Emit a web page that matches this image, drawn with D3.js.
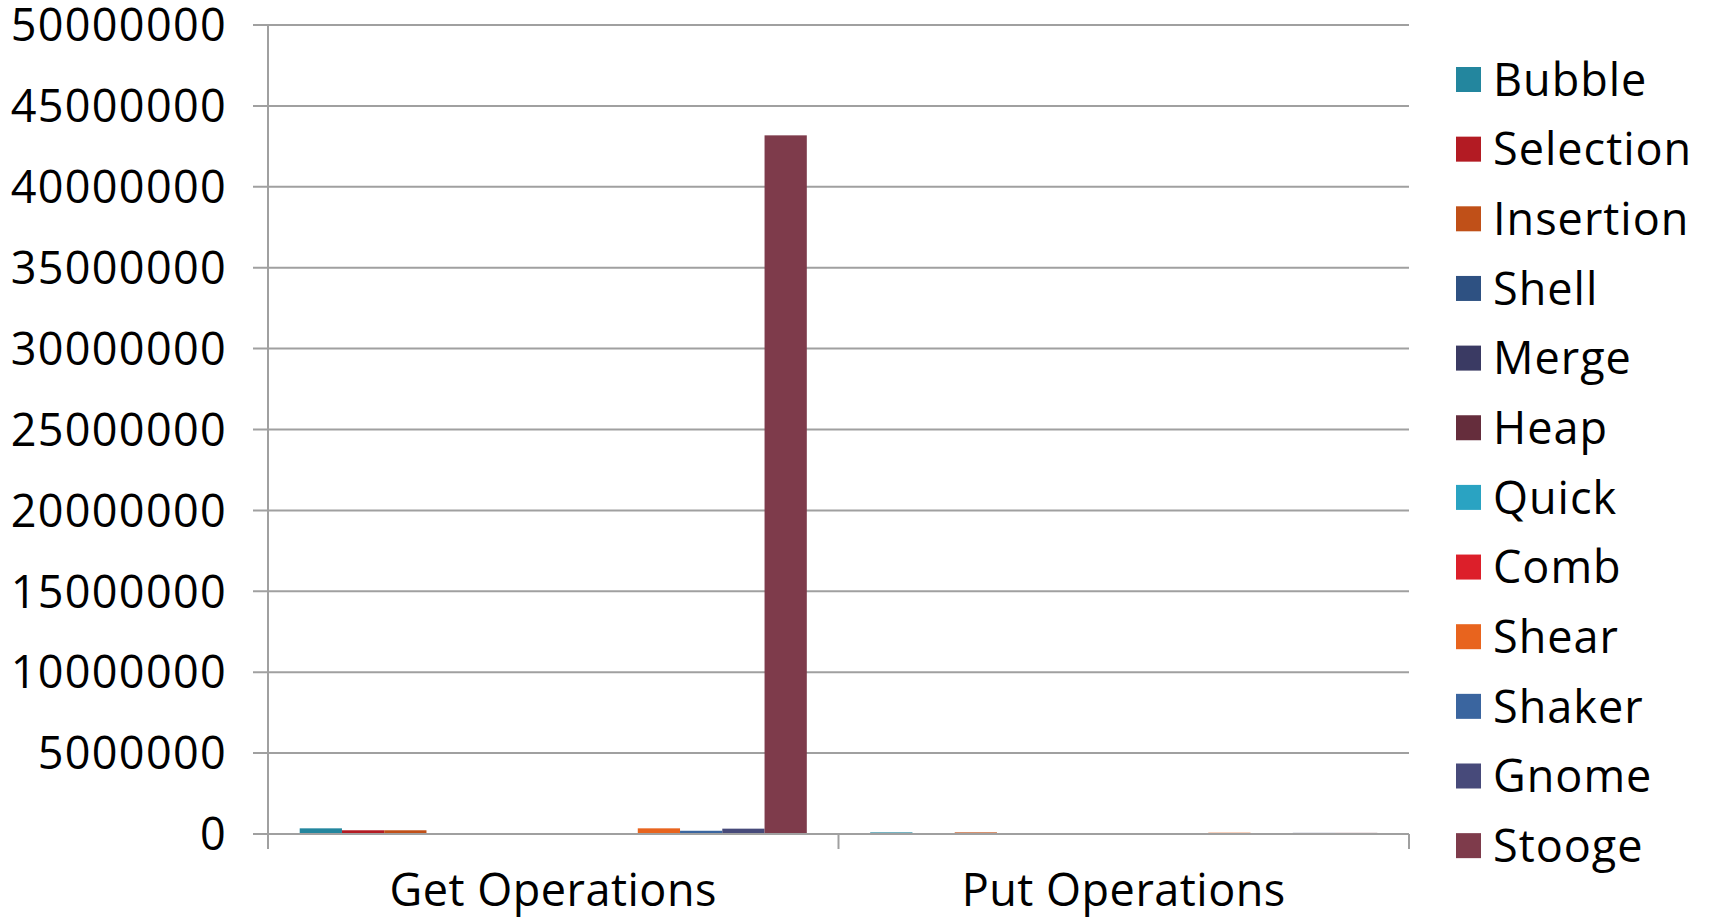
<!DOCTYPE html>
<html>
<head>
<meta charset="utf-8">
<script src="https://cdn.jsdelivr.net/npm/d3@7"></script>
<style>
	body { margin: 0; background: #fff; }
	text { font-family: "Open Sans", sans-serif; fill: #000; }
	.grid line { stroke: #a0a0a0; stroke-width: 2; }
	.axis-line { stroke: #a0a0a0; stroke-width: 2; fill: none; }
</style>
</head>
<body>
<div id="chart"></div>
<script>
////////////////////////////////////////////////////////////
//////////////////////// Data //////////////////////////////
////////////////////////////////////////////////////////////

var categories = ["Get Operations", "Put Operations"];
var algorithms = ["Bubble", "Selection", "Insertion", "Shell", "Merge", "Heap",
	"Quick", "Comb", "Shear", "Shaker", "Gnome", "Stooge"];
var getValues = [350000, 230000, 230000, 0, 0, 0, 0, 0, 350000, 200000, 330000, 43180000];
var putValues = [100000, 0, 100000, 0, 0, 0, 0, 0, 80000, 0, 70000, 70000];
var algoColors = ["#23869e", "#b31b23", "#c05018", "#2e5182", "#3a3a63", "#652d3c",
	"#2aa3c2", "#dc1f2a", "#e8641e", "#3a659f", "#474a7a", "#7e3b4b"];
var yTicks = d3.range(0, 50000001, 5000000);

////////////////////////////////////////////////////////////
//////////////////////// Set-up ////////////////////////////
////////////////////////////////////////////////////////////

var width = 1709, height = 918;
var plot = {left: 268, right: 1409, top: 25, bottom: 834};

var svg = d3.select("#chart").append("svg")
	.attr("width", width)
	.attr("height", height);

var y = d3.scaleLinear()
	.domain([0, 50000000])
	.range([plot.bottom, plot.top]);

//Excel style: 150% gap between clusters
var x0 = d3.scaleBand()
	.domain(categories)
	.range([plot.left, plot.right])
	.paddingInner(0)
	.paddingOuter(0);

var barW = x0.bandwidth() / (algorithms.length + 1.5);
var x1 = d3.scaleBand()
	.domain(algorithms)
	.range([barW * 0.75, x0.bandwidth() - barW * 0.75])
	.padding(0);

var color = d3.scaleOrdinal().domain(algorithms).range(algoColors);

var rows = categories.map(function(c, i) {
	var vals = i === 0 ? getValues : putValues;
	return {cat: c, values: algorithms.map(function(a, j) { return {algo: a, value: vals[j]}; })};
});

////////////////////////////////////////////////////////////
///////////////////// Grid and axes ////////////////////////
////////////////////////////////////////////////////////////

svg.append("g")
	.attr("class", "grid")
	.selectAll("line")
	.data(yTicks)
	.enter().append("line")
	.attr("x1", plot.left - 15)
	.attr("x2", plot.right)
	.attr("y1", function(d) { return y(d); })
	.attr("y2", function(d) { return y(d); });

svg.selectAll(".y-label")
	.data(yTicks)
	.enter().append("text")
	.attr("class", "y-label")
	.attr("x", 227)
	.attr("y", function(d) { return y(d); })
	.attr("dy", "0.36em")
	.style("text-anchor", "end")
	.style("font-size", "45px")
	.style("letter-spacing", "1.3px")
	.text(function(d) { return d; });

//Vertical axis
svg.append("line")
	.attr("class", "axis-line")
	.attr("x1", plot.left).attr("x2", plot.left)
	.attr("y1", plot.top).attr("y2", plot.bottom);

////////////////////////////////////////////////////////////
///////////////////////// Bars /////////////////////////////
////////////////////////////////////////////////////////////

var groups = svg.selectAll(".cat")
	.data(rows)
	.enter().append("g")
	.attr("class", "cat")
	.attr("transform", function(d) { return "translate(" + x0(d.cat) + ",0)"; });

groups.selectAll("rect")
	.data(function(d) { return d.values; })
	.enter().append("rect")
	.attr("x", function(d) { return x1(d.algo); })
	.attr("width", x1.bandwidth())
	.attr("y", function(d) { return y(d.value); })
	.attr("height", function(d) { return plot.bottom - y(d.value); })
	.style("fill", function(d) { return color(d.algo); });

//Horizontal axis with category ticks
svg.append("line")
	.attr("class", "axis-line")
	.attr("x1", plot.left).attr("x2", plot.right)
	.attr("y1", plot.bottom).attr("y2", plot.bottom);

var catEdges = categories.map(function(c) { return x0(c); }).concat([plot.right]);
svg.selectAll(".cat-tick")
	.data(catEdges)
	.enter().append("line")
	.attr("class", "axis-line cat-tick")
	.attr("x1", function(d) { return d; }).attr("x2", function(d) { return d; })
	.attr("y1", plot.bottom).attr("y2", plot.bottom + 15);

svg.selectAll(".x-label")
	.data(categories)
	.enter().append("text")
	.attr("class", "x-label")
	.attr("x", function(d) { return x0(d) + x0.bandwidth() / 2; })
	.attr("y", 906)
	.style("text-anchor", "middle")
	.style("font-size", "45px")
	.style("letter-spacing", "0.5px")
	.text(function(d) { return d; });

////////////////////////////////////////////////////////////
//////////////////////// Legend ////////////////////////////
////////////////////////////////////////////////////////////

var legend = svg.selectAll(".legend")
	.data(algorithms)
	.enter().append("g")
	.attr("class", "legend")
	.attr("transform", function(d, i) { return "translate(1456," + (79.5 + i * 69.65) + ")"; });

legend.append("rect")
	.attr("y", -12.5)
	.attr("width", 25)
	.attr("height", 25)
	.style("fill", function(d) { return color(d); });

legend.append("text")
	.attr("x", 37)
	.attr("dy", "0.36em")
	.style("font-size", "45px")
	.style("letter-spacing", "1px")
	.text(function(d) { return d; });
</script>
</body>
</html>
